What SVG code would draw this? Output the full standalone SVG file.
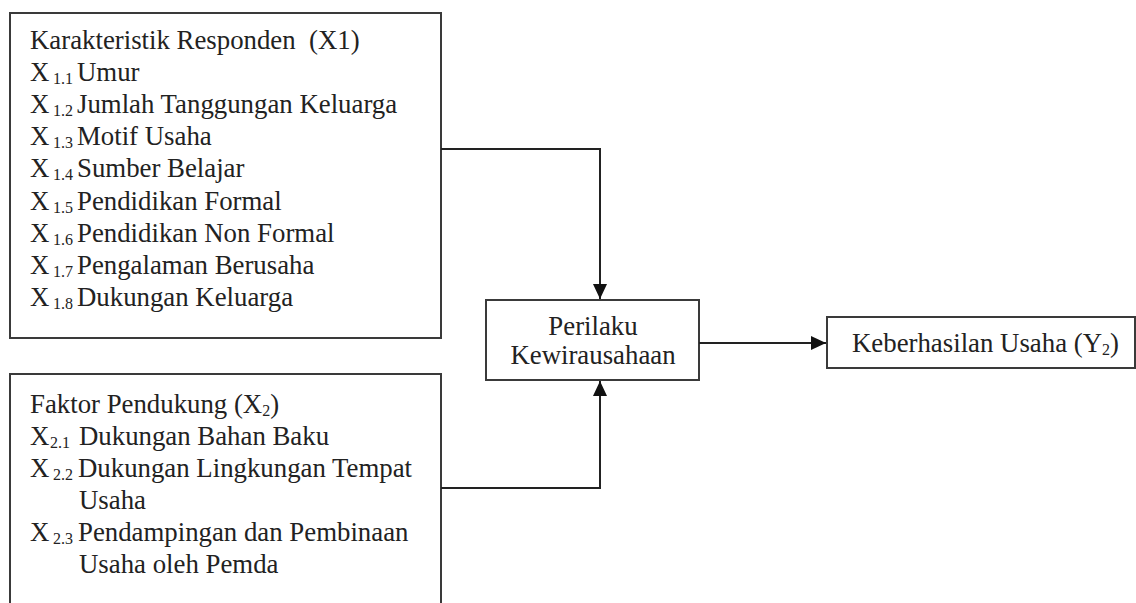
<svg xmlns="http://www.w3.org/2000/svg" width="1136" height="603" viewBox="0 0 1136 603">
<style>
.box{fill:#fff;stroke:#3a3a3a;stroke-width:2}
text{font-family:'Liberation Serif','Times New Roman',serif;font-size:26.8px;fill:#222}
.sub{font-size:16px}
.line{fill:none;stroke:#222;stroke-width:2}
</style>
<defs>
<marker id="arr" markerUnits="userSpaceOnUse" markerWidth="16" markerHeight="16" viewBox="0 0 16 16" refX="15" refY="8" orient="auto">
<path d="M0,1 L15,8 L0,15 Z" fill="#111"/>
</marker>
</defs>
<rect width="1136" height="603" fill="#fff"/>
<g id="node-x1">
<rect class="box" x="10" y="13" width="431" height="325"/>
<text x="30" y="49" xml:space="preserve">Karakteristik Responden  (X1)</text>
<text x="30" y="81">X<tspan class="sub" x="53" dy="3">1.1</tspan><tspan x="77" dy="-3">Umur</tspan></text>
<text x="30" y="113">X<tspan class="sub" x="53" dy="3">1.2</tspan><tspan x="77" dy="-3">Jumlah Tanggungan Keluarga</tspan></text>
<text x="30" y="145">X<tspan class="sub" x="53" dy="3">1.3</tspan><tspan x="77" dy="-3">Motif Usaha</tspan></text>
<text x="30" y="177">X<tspan class="sub" x="53" dy="3">1.4</tspan><tspan x="77" dy="-3">Sumber Belajar</tspan></text>
<text x="30" y="210">X<tspan class="sub" x="53" dy="3">1.5</tspan><tspan x="77" dy="-3">Pendidikan Formal</tspan></text>
<text x="30" y="242">X<tspan class="sub" x="53" dy="3">1.6</tspan><tspan x="77" dy="-3">Pendidikan Non Formal</tspan></text>
<text x="30" y="274">X<tspan class="sub" x="53" dy="3">1.7</tspan><tspan x="77" dy="-3">Pengalaman Berusaha</tspan></text>
<text x="30" y="306">X<tspan class="sub" x="53" dy="3">1.8</tspan><tspan x="77" dy="-3">Dukungan Keluarga</tspan></text>
</g>
<g id="node-x2">
<rect class="box" x="10" y="374" width="431" height="260"/>
<text x="30" y="413">Faktor Pendukung (X<tspan class="sub" dy="3">2</tspan><tspan dy="-3">)</tspan></text>
<text x="30" y="445">X<tspan class="sub" x="50" dy="3">2.1</tspan><tspan x="79" dy="-3">Dukungan Bahan Baku</tspan></text>
<text x="30" y="477">X<tspan class="sub" x="53" dy="3">2.2</tspan><tspan x="78" dy="-3">Dukungan Lingkungan Tempat</tspan></text>
<text x="79" y="509">Usaha</text>
<text x="30" y="541">X<tspan class="sub" x="53" dy="3">2.3</tspan><tspan x="78" dy="-3">Pendampingan dan Pembinaan</tspan></text>
<text x="79" y="573">Usaha oleh Pemda</text>
</g>
<g id="node-perilaku">
<rect class="box" x="486" y="300" width="213" height="80"/>
<text x="593" y="335" text-anchor="middle">Perilaku</text>
<text x="593" y="364" text-anchor="middle">Kewirausahaan</text>
</g>
<g id="node-y2">
<rect class="box" x="827" y="317" width="308" height="51"/>
<text x="852" y="352">Keberhasilan Usaha (Y<tspan class="sub" dy="3">2</tspan><tspan dy="-3">)</tspan></text>
</g>
<g id="connectors">
<path class="line" d="M441,149 H600 V299" marker-end="url(#arr)"/>
<path class="line" d="M441,488 H600 V381" marker-end="url(#arr)"/>
<path class="line" d="M699,343 H826" marker-end="url(#arr)"/>
</g>
</svg>
